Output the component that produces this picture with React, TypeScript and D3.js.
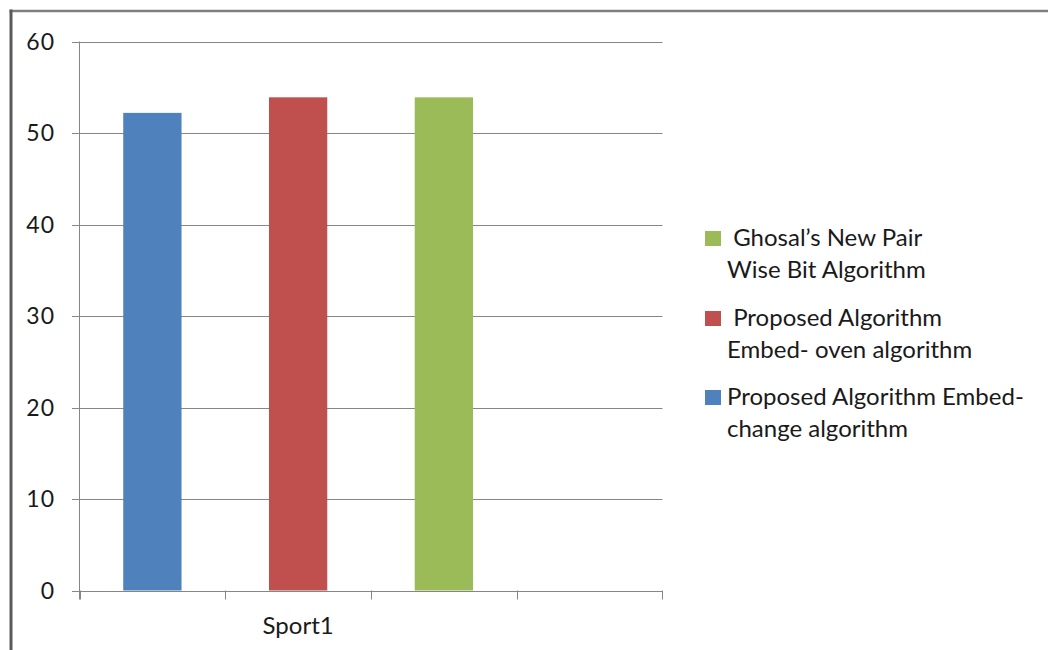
import React from "react";
import * as d3 from "d3";

const categories = ["c0", "Sport1", "c2", "c3"];
const categoryLabels = ["", "Sport1", "", ""];
const embedChangeValues: (number | null)[] = [52.2, null, null, null];
const embedOvenValues: (number | null)[] = [null, 53.9, null, null];
const ghosalValues: (number | null)[] = [null, null, 53.9, null];
const yTicks = [0, 10, 20, 30, 40, 50, 60];

const seriesNames = ["embedChange", "embedOven", "ghosal"];
const seriesColors = ["#4f81bd", "#c0504d", "#9bbb59"];
const seriesLegendLines = [
  ["Proposed Algorithm Embed-", "change algorithm"],
  [" Proposed Algorithm", "Embed- oven algorithm"],
  [" Ghosal\u2019s New Pair", "Wise Bit Algorithm"],
];

const W = 1048;
const H = 650;
const FONT = "Lato, 'Open Sans', sans-serif";

export default function App() {
  const x = d3.scaleBand<string>().domain(categories).range([79.5, 662.5]).padding(0);
  const y = d3.scaleLinear().domain([0, 60]).range([590.5, 41.5]);
  const allSeries = [embedChangeValues, embedOvenValues, ghosalValues];
  const bw = x.bandwidth() * 0.4;
  const axisColor = "#868686";

  const legendOrder = [2, 1, 0];
  const legendY = [246, 326, 405];

  return (
    <svg
      width={W}
      height={H}
      style={{ position: "absolute", left: 0, top: 0, background: "#fff" }}
      fontFamily={FONT}
    >
      <rect x={0} y={0} width={W} height={H} fill="#fff" />
      {/* frame */}
      <line x1={9.5} x2={W} y1={11} y2={11} stroke="#7f7f7f" strokeWidth={2.5} />
      <line x1={11} x2={11} y1={9.5} y2={H} stroke="#5a5a5a" strokeWidth={3} />

      {/* gridlines */}
      {yTicks.map((t) => (
        <line
          key={"g" + t}
          x1={72}
          x2={662.5}
          y1={Math.round(y(t)) + 0.5}
          y2={Math.round(y(t)) + 0.5}
          stroke={axisColor}
          strokeWidth={1}
        />
      ))}
      {/* y labels */}
      {yTicks.map((t) => (
        <text
          key={"yl" + t}
          x={55}
          y={y(t) + 8}
          textAnchor="end"
          fontSize={23}
          letterSpacing={1}
          fill="#1a1a1a"
        >
          {t}
        </text>
      ))}
      {/* y axis */}
      <line x1={79.5} x2={79.5} y1={y(60)} y2={y(0) + 9} stroke={axisColor} strokeWidth={1} />
      {/* x ticks */}
      {categories.map((c) => (
        <line
          key={"xt" + c}
          x1={Math.round(x(c)!) + 0.5}
          x2={Math.round(x(c)!) + 0.5}
          y1={y(0)}
          y2={y(0) + 9}
          stroke={axisColor}
        />
      ))}
      <line x1={662.5} x2={662.5} y1={y(0)} y2={y(0) + 9} stroke={axisColor} />
      {/* bars */}
      {allSeries.map((vals, si) =>
        vals.map((v, ci) =>
          v == null ? null : (
            <rect
              key={seriesNames[si] + ci}
              x={x(categories[ci])! + x.bandwidth() / 2 - bw / 2}
              y={y(v)}
              width={bw}
              height={y(0) - y(v)}
              fill={seriesColors[si]}
            />
          )
        )
      )}
      {/* x labels */}
      {categories.map((c, i) => (
        <text
          key={"xl" + c}
          x={x(c)! + x.bandwidth() / 2}
          y={634}
          textAnchor="middle"
          fontSize={24}
          fill="#1a1a1a"
        >
          {categoryLabels[i]}
        </text>
      ))}
      {/* legend */}
      {legendOrder.map((si, k) => (
        <g key={"lg" + si}>
          <rect x={705} y={legendY[k] - 15} width={16} height={15} fill={seriesColors[si]} />
          {seriesLegendLines[si].map((line, li) => (
            <text
              key={li}
              x={727}
              y={legendY[k] + li * 31.5}
              fontSize={24}
              fill="#1a1a1a"
              style={{ whiteSpace: "pre" }}
            >
              {line}
            </text>
          ))}
        </g>
      ))}
    </svg>
  );
}
